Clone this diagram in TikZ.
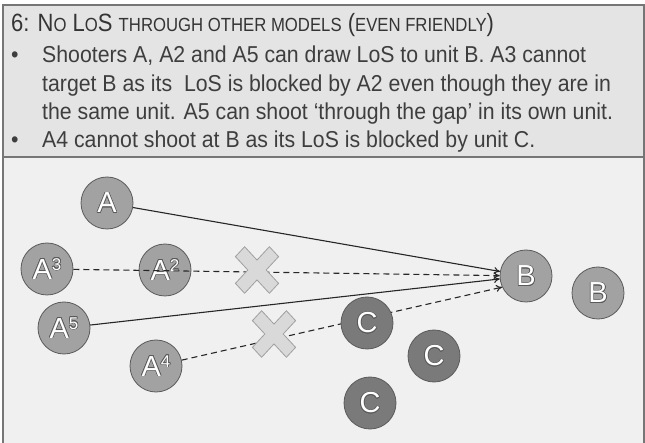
\documentclass[tikz,border=0pt]{standalone}
\usepackage{fontspec}
\setmainfont{Liberation Sans}[FakeStretch=0.925]
\newfontfamily\headfont{Liberation Sans}[FakeStretch=0.88]
\newfontfamily\unitfont{Liberation Sans}
\usepackage{contour}
\usetikzlibrary{arrows.meta}

\definecolor{headbg}{HTML}{E4E4E4}
\definecolor{fieldbg}{HTML}{F0F0F0}
\definecolor{framegray}{HTML}{767676}
\definecolor{inkgray}{HTML}{3E3E3E}
\definecolor{headink}{HTML}{343434}
\definecolor{unitlight}{HTML}{A2A2A2}
\definecolor{unitdark}{HTML}{7A7A7A}
\definecolor{rimgray}{HTML}{5A5A5A}
\definecolor{crossfill}{HTML}{D9D9D9}
\definecolor{crossrim}{HTML}{A0A0A0}

\contourlength{0.6pt}
\newcommand{\fsc}[1]{{\fontsize{19}{19}\selectfont #1}}
\newcommand{\unitname}[2]{\contour{rimgray}{#1\raisebox{9pt}{\fontsize{17}{17}\selectfont #2}}}

\tikzset{
  model/.style={circle, draw=rimgray, line width=0.8pt, fill=unitlight, minimum size=52pt,
    inner sep=0pt, text=white, font=\unitfont\fontsize{29}{29}\selectfont},
  blocking/.style={model, fill=unitdark},
  body/.style={anchor=base west, inner sep=0pt, text=inkgray, font=\fontsize{23}{27}\selectfont},
  los/.style={-{To[length=6pt,width=7pt]}, line width=1.1pt, draw=black!85},
  nolos/.style={los, dash pattern=on 6pt off 4pt},
  blockcross/.pic={
    \filldraw[fill=crossfill, draw=crossrim, line width=0.8pt, yscale=1.08, rotate=45]
      (6.5,24) -- (6.5,6.5) -- (24,6.5) -- (24,-6.5) -- (6.5,-6.5) -- (6.5,-24)
      -- (-6.5,-24) -- (-6.5,-6.5) -- (-24,-6.5) -- (-24,6.5) -- (-6.5,6.5) -- (-6.5,24) -- cycle;
  }
}

\begin{document}
\begin{tikzpicture}[x=1pt, y=-1pt]
  \useasboundingbox (0,0) rectangle (645,443);

  % panel: header strip and playing field
  \fill[headbg] (3,5) rectangle (644,157);
  \fill[fieldbg] (3,157) rectangle (644,450);
  \draw[framegray, line width=2pt] (644,450) -- (644,5) -- (3,5) -- (3,450);
  \draw[framegray, line width=2.5pt] (3,157) -- (644,157);

  % header text
  \node[anchor=base west, inner sep=0pt, text=headink, font=\headfont\fontsize{25}{25}\selectfont] (title) at (11,32)
    {6: N\fsc{O} L\fsc{O}S \fsc{THROUGH OTHER MODELS} (\fsc{EVEN FRIENDLY})};
  \node[body] (line1) at (11,63) {\makebox[31pt][l]{\textbullet}Shooters A, A2 and A5 can draw LoS to unit B. A3 cannot};
  \node[body] (line2) at (42,92) {target B as its~ LoS is blocked by A2 even though they are in};
  \node[body] (line3) at (42,120) {the same unit. A5 can shoot ‘through the gap’ in its own unit.};
  \node[body] (line4) at (11,148) {\makebox[31pt][l]{\textbullet}A4 cannot shoot at B as its LoS is blocked by unit C.};

  % shooters and targets
  \node[model] (A) at (107,203) {\unitname{A}{}};
  \node[model] (A3) at (47,269) {\unitname{A}{3}};
  \node[model] (A2) at (165,270) {\unitname{A}{2}};
  \node[model] (A5) at (64,328) {\unitname{A}{5}};
  \node[model] (A4) at (156,366) {\unitname{A}{4}};
  \node[model] (B) at (526,276) {\unitname{B}{}};
  \node[model] (B2) at (598,293) {\unitname{B}{}};

  % lines of sight
  \draw[los] (A) -- (B);
  \draw[nolos] (A3) -- (B);
  \draw[los] (A5) -- (B);
  \draw[nolos] (A4) -- (B.205);

  % blocking unit C
  \node[blocking] (C1) at (367,323) {\unitname{C}{}};
  \node[blocking] (C2) at (434,356) {\unitname{C}{}};
  \node[blocking] (C3) at (370,403) {\unitname{C}{}};

  % blocked shots
  \pic at (257,270) {blockcross};
  \pic at (274,334) {blockcross};
\end{tikzpicture}
\end{document}
